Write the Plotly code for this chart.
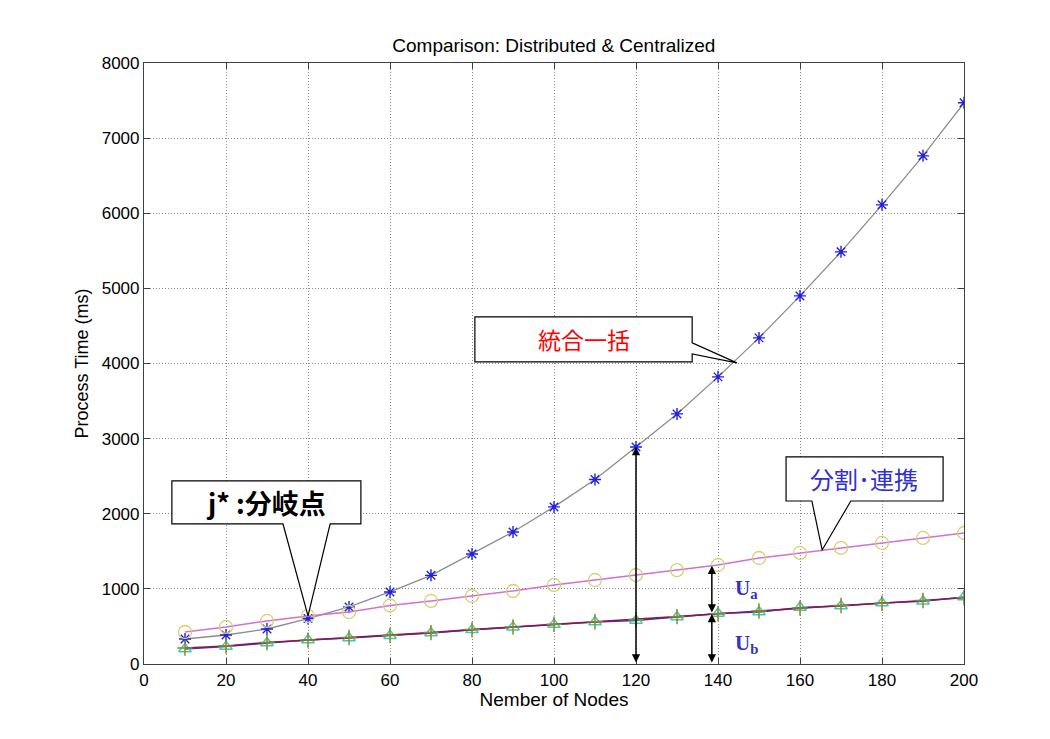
import numpy as np
import plotly.graph_objects as go

# Number of nodes
nodes = [10, 20, 30, 40, 50, 60, 70, 80, 90, 100,
         110, 120, 130, 140, 150, 160, 170, 180, 190, 200]

# Process time (ms): centralized batch (統合一括)
centralized = [333, 386, 466, 605, 759, 959, 1180, 1465, 1758, 2091,
               2455, 2889, 3329, 3822, 4341, 4900, 5486, 6112, 6764, 7470]

# Process time (ms): distributed / cooperative (分割・連携)
distributed = [426, 493, 573, 639, 692, 779, 839, 905, 972, 1052,
               1118, 1185, 1250, 1318, 1411, 1478, 1545, 1611, 1678, 1744]

# Process time (ms): per-part components of the distributed approach
part_tri = [200, 232, 280, 320, 346, 376, 413, 455, 490, 525,
            559, 580, 626, 672, 692, 752, 772, 812, 836, 892]
part_plus = [212, 240, 287, 318, 352, 382, 418, 458, 492, 530,
             562, 590, 630, 668, 705, 745, 778, 808, 845, 882]

x_ticks = list(range(0, 201, 20))
y_ticks = list(range(0, 8001, 1000))

FONT = "Liberation Sans"
CJK = "Noto Sans CJK JP"

fig = go.Figure()

fig.add_trace(go.Scatter(
    x=nodes, y=centralized, mode="lines+markers", name="統合一括",
    line=dict(color="#8c8c8c", width=1.3),
    marker=dict(symbol="asterisk-open", size=10, color="#2020e0",
                line=dict(color="#2020e0", width=1.4)),
))
fig.add_trace(go.Scatter(
    x=nodes, y=distributed, mode="lines+markers", name="分割・連携",
    line=dict(color="#d070d0", width=1.5),
    marker=dict(symbol="circle-open", size=13, color="#d8d070",
                line=dict(color="#d8d070", width=1.3)),
))
fig.add_trace(go.Scatter(
    x=nodes, y=part_tri, mode="lines+markers", name="part A",
    line=dict(color="#3040c0", width=1.6),
    marker=dict(symbol="triangle-up-open", size=11, color="#40c8b8",
                line=dict(color="#40c8b8", width=1.4)),
))
fig.add_trace(go.Scatter(
    x=nodes, y=part_plus, mode="lines+markers", name="part B",
    line=dict(color="#8a1850", width=1.6),
    marker=dict(symbol="cross-thin-open", size=11, color="#8a8a20",
                line=dict(color="#8a8a20", width=1.5)),
))

shapes = []
annotations = []


def callout(x0, x1, y0, y1, tail, tip):
    """White box with a pointer; tail is the pair of base points of the pointer."""
    (bx0, by0), (bx1, by1) = tail
    tx, ty = tip
    if by0 == y0 and by1 == y0:   # pointer leaves from the bottom edge
        path = (f"M {x0},{y1} L {x1},{y1} L {x1},{y0} L {bx1},{y0} "
                f"L {tx},{ty} L {bx0},{y0} L {x0},{y0} Z")
    else:                         # pointer leaves from the right edge
        path = (f"M {x0},{y1} L {x1},{y1} L {x1},{by0} L {tx},{ty} "
                f"L {x1},{by1} L {x1},{y0} L {x0},{y0} Z")
    shapes.append(dict(type="path", path=path, xref="x", yref="y",
                       fillcolor="white", line=dict(color="black", width=1.2),
                       layer="above"))


# j*: branch point callout
callout(6.8, 52.9, 1864, 2437, ((33.9, 1864), (45.4, 1864)), (40, 640))
annotations.append(dict(x=29.8, y=2150, xref="x", yref="y", showarrow=False,
                        text="<b>j* :分岐点</b>",
                        font=dict(family=CJK, size=27, color="black")))

# centralized callout
callout(80.7, 133.7, 4021, 4621, ((133.7, 4274), (133.7, 4128)), (144.6, 4008))
annotations.append(dict(x=107.2, y=4321, xref="x", yref="y", showarrow=False,
                        text="統合一括",
                        font=dict(family=CJK, size=23, color="#ff0000")))

# distributed callout
callout(156.6, 194.9, 2170, 2756, ((162.9, 2170), (172.4, 2170)), (165.4, 1518))
annotations.append(dict(x=175.7, y=2463, xref="x", yref="y", showarrow=False,
                        text="分割･連携",
                        font=dict(family=CJK, size=24, color="#3030d0")))

# double-headed measurement arrows
arrow_style = dict(xref="x", yref="y", axref="x", ayref="y", text="",
                   showarrow=True, arrowcolor="black", arrowwidth=1.5,
                   arrowhead=2, startarrowhead=2, arrowsize=1.1, startarrowsize=1.1,
                   arrowside="end+start", standoff=0, startstandoff=0)

x_a = 120
annotations.append(dict(x=x_a, y=centralized[nodes.index(x_a)], ax=x_a, ay=0, **arrow_style))

x_b = 138.5
top_b = float(np.interp(x_b, nodes, distributed))
mid_b = float(np.interp(x_b, nodes, part_tri))
annotations.append(dict(x=x_b, y=top_b, ax=x_b, ay=mid_b, **arrow_style))
annotations.append(dict(x=x_b, y=mid_b, ax=x_b, ay=0, **arrow_style))

annotations.append(dict(x=147, y=1000, xref="x", yref="y", showarrow=False,
                        text="<b>U<sub>a</sub></b>",
                        font=dict(family="Liberation Serif", size=21, color="#3333bb")))
annotations.append(dict(x=147, y=270, xref="x", yref="y", showarrow=False,
                        text="<b>U<sub>b</sub></b>",
                        font=dict(family="Liberation Serif", size=21, color="#3333bb")))

axis_common = dict(
    showline=True, linecolor="#404040", linewidth=1.2, mirror="ticks",
    ticks="inside", ticklen=6, tickcolor="#404040", tickwidth=1.2,
    showgrid=True, gridcolor="#8a8a8a", griddash="1px,2px", gridwidth=1,
    zeroline=False, tickfont=dict(family=FONT, size=17, color="black"),
)

fig.update_layout(
    width=1050, height=739,
    margin=dict(l=144, r=86, t=63, b=75),
    paper_bgcolor="white", plot_bgcolor="white",
    showlegend=False,
    title=dict(text="Comparison: Distributed &amp; Centralized", x=0.5275, xanchor="center",
               y=0.939, yanchor="middle",
               font=dict(family=FONT, size=19, color="black")),
    xaxis=dict(range=[0, 200], tickvals=x_ticks,
               title=dict(text="Nember of Nodes", standoff=4,
                          font=dict(family=FONT, size=19, color="black")),
               **axis_common),
    yaxis=dict(range=[0, 8000], tickvals=y_ticks,
               title=dict(text="Process Time (ms)", standoff=8,
                          font=dict(family=FONT, size=18, color="black")),
               **axis_common),
    shapes=shapes,
    annotations=annotations,
)

fig.write_html("out.html")
